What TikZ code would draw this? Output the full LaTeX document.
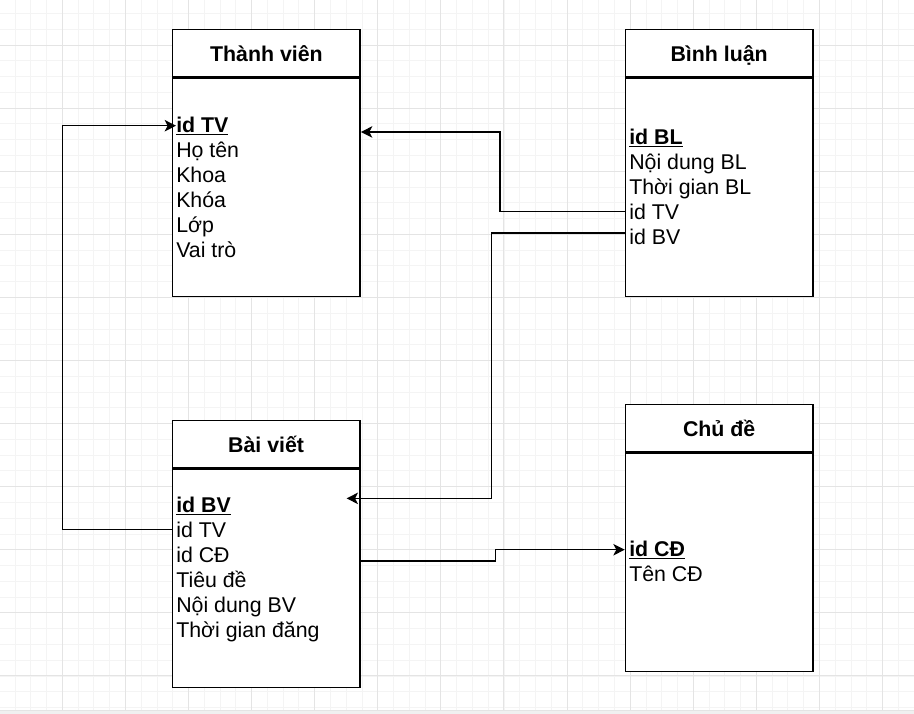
\documentclass[tikz,border=0pt]{standalone}
\usepackage{fontspec}
\setmainfont{Liberation Sans}
\usetikzlibrary{positioning,arrows.meta}

\definecolor{gridminor}{RGB}{244,244,244}
\definecolor{gridmajor}{RGB}{228,228,228}
\definecolor{barfill}{RGB}{240,240,240}

\begin{document}
\begin{tikzpicture}[x=0.75pt,y=-0.75pt]
				\tikzstyle{every node}+=[inner sep=0pt]
				\tikzstyle{head}=[draw,fill=white,line width=1.1pt,minimum width=140.6pt,minimum height=35pt,anchor=north west,font=\fontsize{16}{19}\selectfont\bfseries,text height=12.5pt,text depth=0pt]
				\tikzstyle{body}=[draw,fill=white,line width=1.1pt,minimum width=140.6pt,minimum height=164pt]
				\tikzstyle{attr}=[anchor=base west,font=\fontsize{16}{19}\selectfont]
				\tikzstyle{key}=[attr,font=\fontsize{16}{19}\selectfont\bfseries]
				\tikzstyle{link}=[line width=1.1pt,-{Stealth[length=8.5pt,width=8.6pt,inset=2.2pt]}]
				\useasboundingbox (0,0) rectangle (914,714);
				\begin{scope}
				\clip (0,0) rectangle (914,710);
				\draw [gridminor,line width=0.75pt,step=11.83pt,shift={(-0.7,-18)}] (-20,-20) grid (940,740);
				\draw [gridmajor,line width=0.75pt,step=47.31pt,shift={(-0.7,-18)}] (-20,-20) grid (940,740);
				\end{scope}
				\fill [barfill] (0,710) rectangle (914,714);
				\draw [gridmajor] (0,710) -- (914,710);
				\node [head] (tvhead) at (172,29) {Thành viên};
				\node [body,below=0pt of tvhead] (tvbody) {};
				\node [key] (tvid) at (176,132) {\underline{id TV}};
				\node [attr] (tvten) at (176,157) {Họ tên};
				\node [attr] (tvkhoa) at (176,182) {Khoa};
				\node [attr] (tvkhoas) at (176,207) {Khóa};
				\node [attr] (tvlop) at (176,232) {Lớp};
				\node [attr] (tvvai) at (176,257) {Vai trò};
				\node [head] (blhead) at (624.7,29) {Bình luận};
				\node [body,below=0pt of blhead] (blbody) {};
				\node [key] (blid) at (629,144) {\underline{id BL}};
				\node [attr] (blnd) at (629,169) {Nội dung BL};
				\node [attr] (bltg) at (629,194) {Thời gian BL};
				\node [attr] (bltv) at (629,219) {id TV};
				\node [attr] (blbv) at (629,244) {id BV};
				\node [head] (bvhead) at (171.7,420) {Bài viết};
				\node [body,below=0pt of bvhead] (bvbody) {};
				\node [key] (bvid) at (176,512) {\underline{id BV}};
				\node [attr] (bvtv) at (176,537) {id TV};
				\node [attr] (bvcd) at (176,562) {id CĐ};
				\node [attr] (bvtd) at (176,587) {Tiêu đề};
				\node [attr] (bvnd) at (176,612) {Nội dung BV};
				\node [attr] (bvtg) at (176,637) {Thời gian đăng};
				\node [head] (cdhead) at (624.7,404) {Chủ đề};
				\node [body,below=0pt of cdhead] (cdbody) {};
				\node [key] (cdid) at (629,556) {\underline{id CĐ}};
				\node [attr] (cdten) at (629,581) {Tên CĐ};
				\draw [link] (bvbody.west |- bvtv) -- ++(-109,0) |- (tvid.west);
				\draw [link] (blbody.west |- bltv) -- ++(-124.7,0) |- ([yshift=-4.7pt]tvbody.east |- tvid);
				\draw [link] ([yshift=2.5pt]blbody.west |- blbv) -- ++(-133,0) |- ([xshift=-10.5pt,yshift=5.5pt]bvbody.east |- bvid);
				\draw [link] ([yshift=-5pt]bvbody.east |- bvcd) -- ++(135,0) |- (cdbody.west |- cdid);
			\end{tikzpicture}
\end{document}
